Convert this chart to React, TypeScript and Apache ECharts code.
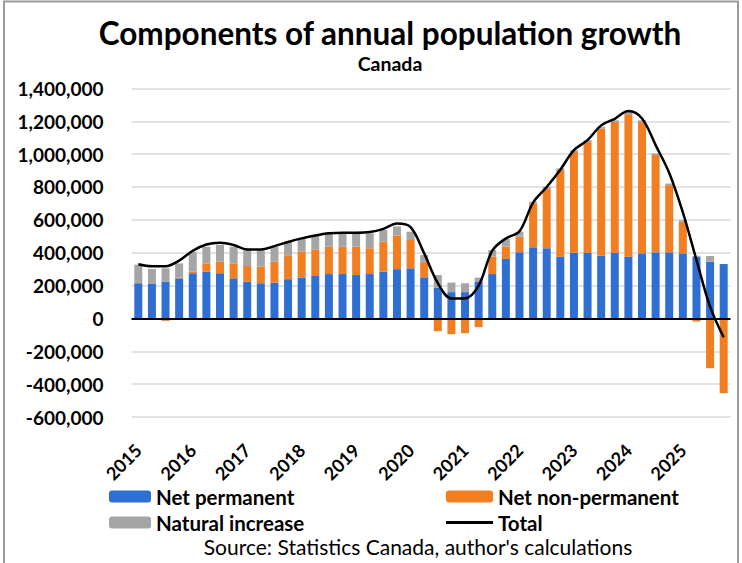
import React, { useEffect, useRef } from "react";
import * as echarts from "echarts";

const years = [2015, 2016, 2017, 2018, 2019, 2020, 2021, 2022, 2023, 2024, 2025];
const quarterNames = ["Q1", "Q2", "Q3", "Q4"];

const netPermanent = [
  214000, 210000, 224000, 244000, 275000, 285000, 275000, 244000, 224000, 214000, 218000,
  239000, 249000, 258000, 270000, 270000, 264000, 270000, 285000, 300000, 305000, 250000,
  188000, 160000, 160000, 222000, 270000, 362000, 403000, 433000, 427000, 376000, 400000,
  400000, 382000, 400000, 376000, 396000, 402000, 402000, 396000, 376000, 345000, 331000,
];

const netNonPermanent = [
  2000, -3000, -15000, 5000, 10000, 50000, 70000, 91000, 95000, 101000, 127000,
  145000, 157000, 162000, 166000, 166000, 172000, 157000, 182000, 205000, 172000, 95000,
  -78000, -96000, -90000, -53000, 106000, 76000, 95000, 267000, 364000, 527000, 613000,
  675000, 774000, 796000, 866000, 800000, 592000, 409000, 192000, -19000, -303000, -455000,
];

const naturalIncrease = [
  111000, 91000, 81000, 86000, 121000, 101000, 102000, 101000, 97000, 101000, 91000,
  83000, 81000, 87000, 82000, 82000, 82000, 91000, 71000, 55000, 51000, 41000,
  76000, 58000, 54000, 26000, 40000, 45000, 30000, 10000, 10000, 10000, 10000,
  10000, 10000, 10000, 15000, 10000, 10000, 10000, 10000, 5000, 35000, 0,
];

const total = [
  330000, 318000, 318000, 352000, 412000, 450000, 460000, 447000, 420000, 420000, 440000,
  465000, 487000, 505000, 518000, 522000, 522000, 526000, 545000, 577000, 556000, 396000,
  215000, 122000, 122000, 200000, 412000, 487000, 530000, 705000, 800000, 905000, 1024000,
  1085000, 1175000, 1215000, 1262000, 1217000, 1055000, 885000, 645000, 356000, 72000, -115000,
];

const categories: string[] = [];
years.forEach((y) => quarterNames.forEach((q) => categories.push(`${y} ${q}`)));

const FONT = "Lato, 'Noto Sans', sans-serif";
const BLUE = "#2F6FD1";
const ORANGE = "#F27E22";
const GRAY = "#A5A5A5";

export default function App() {
  const ref = useRef<HTMLDivElement>(null);
  useEffect(() => {
    if (!ref.current) return;
    const chart = echarts.init(ref.current, undefined, { renderer: "svg" });
    const legendText = { fontFamily: FONT, fontWeight: "bold" as const, fontSize: 20.5, color: "#000" };
    chart.setOption({
      animation: false,
      backgroundColor: "#fff",
      grid: { left: 131.5, right: 11.5, top: 88.4, bottom: 146, containLabel: false },
      graphic: [
        {
          type: "rect",
          shape: { x: 4, y: 1.5, width: 734, height: 600 },
          style: { fill: "none", stroke: "#9a9a9a", lineWidth: 2 },
          silent: true,
        },
        {
          type: "text",
          x: 390,
          y: 33,
          style: {
            text: "Components of annual population growth",
            font: `bold 31.5px ${FONT}`,
            fill: "#000",
            align: "center",
            verticalAlign: "middle",
          },
        },
        {
          type: "text",
          x: 390,
          y: 63,
          style: {
            text: "Canada",
            font: `bold 19.5px ${FONT}`,
            fill: "#000",
            align: "center",
            verticalAlign: "middle",
          },
        },
        {
          type: "text",
          x: 418,
          y: 546,
          style: {
            text: "Source: Statistics Canada, author's calculations",
            font: `21px ${FONT}`,
            fill: "#000",
            align: "center",
            verticalAlign: "middle",
          },
        },
      ],
      legend: [
        {
          data: ["Net permanent", "Natural increase"],
          orient: "vertical",
          left: 104,
          top: 481,
          itemWidth: 42,
          itemHeight: 12,
          itemGap: 5,
          textStyle: legendText,
        },
        {
          data: [
            "Net non-permanent",
            { name: "Total", icon: "path://M0 0 H100 V6 H0 Z" },
          ],
          orient: "vertical",
          left: 441,
          top: 481,
          itemWidth: 47,
          itemHeight: 12,
          itemGap: 5,
          textStyle: legendText,
        },
      ],
      xAxis: {
        type: "category",
        data: categories,
        axisLine: { show: false },
        axisTick: { show: false },
        splitLine: { show: false },
        axisLabel: {
          interval: 3,
          rotate: 45,
          margin: 30,
          fontFamily: FONT,
          fontWeight: "bold",
          fontSize: 18,
          color: "#000",
          formatter: (v: string) => v.slice(0, 4),
        },
      },
      yAxis: {
        type: "value",
        min: -600000,
        max: 1400000,
        interval: 200000,
        axisLine: { show: false },
        axisTick: { show: false },
        splitLine: { lineStyle: { color: "#d9d9d9", width: 1.5 } },
        axisLabel: {
          margin: 28,
          fontFamily: FONT,
          fontWeight: "bold",
          fontSize: 19,
          color: "#000",
          formatter: (v: number) => v.toLocaleString("en-US"),
        },
      },
      series: [
        {
          name: "Net permanent",
          type: "bar",
          stack: "g",
          data: netPermanent,
          barWidth: 8,
          itemStyle: { color: BLUE },
          markLine: {
            silent: true,
            symbol: "none",
            label: { show: false },
            lineStyle: { color: "#000", width: 2, type: "solid" },
            data: [{ yAxis: 0 }],
          },
        },
        {
          name: "Net non-permanent",
          type: "bar",
          stack: "g",
          data: netNonPermanent,
          barWidth: 8,
          itemStyle: { color: ORANGE },
        },
        {
          name: "Natural increase",
          type: "bar",
          stack: "g",
          data: naturalIncrease,
          barWidth: 8,
          itemStyle: { color: GRAY },
        },
        {
          name: "Total",
          type: "line",
          data: total,
          smooth: 0.35,
          symbol: "none",
          z: 10,
          lineStyle: { color: "#000", width: 2.5 },
          itemStyle: { color: "#000" },
        },
      ],
    });
    return () => chart.dispose();
  }, []);
  return (
    <div
      ref={ref}
      style={{ position: "absolute", left: 0, top: 0, width: 742, height: 563 }}
    />
  );
}
